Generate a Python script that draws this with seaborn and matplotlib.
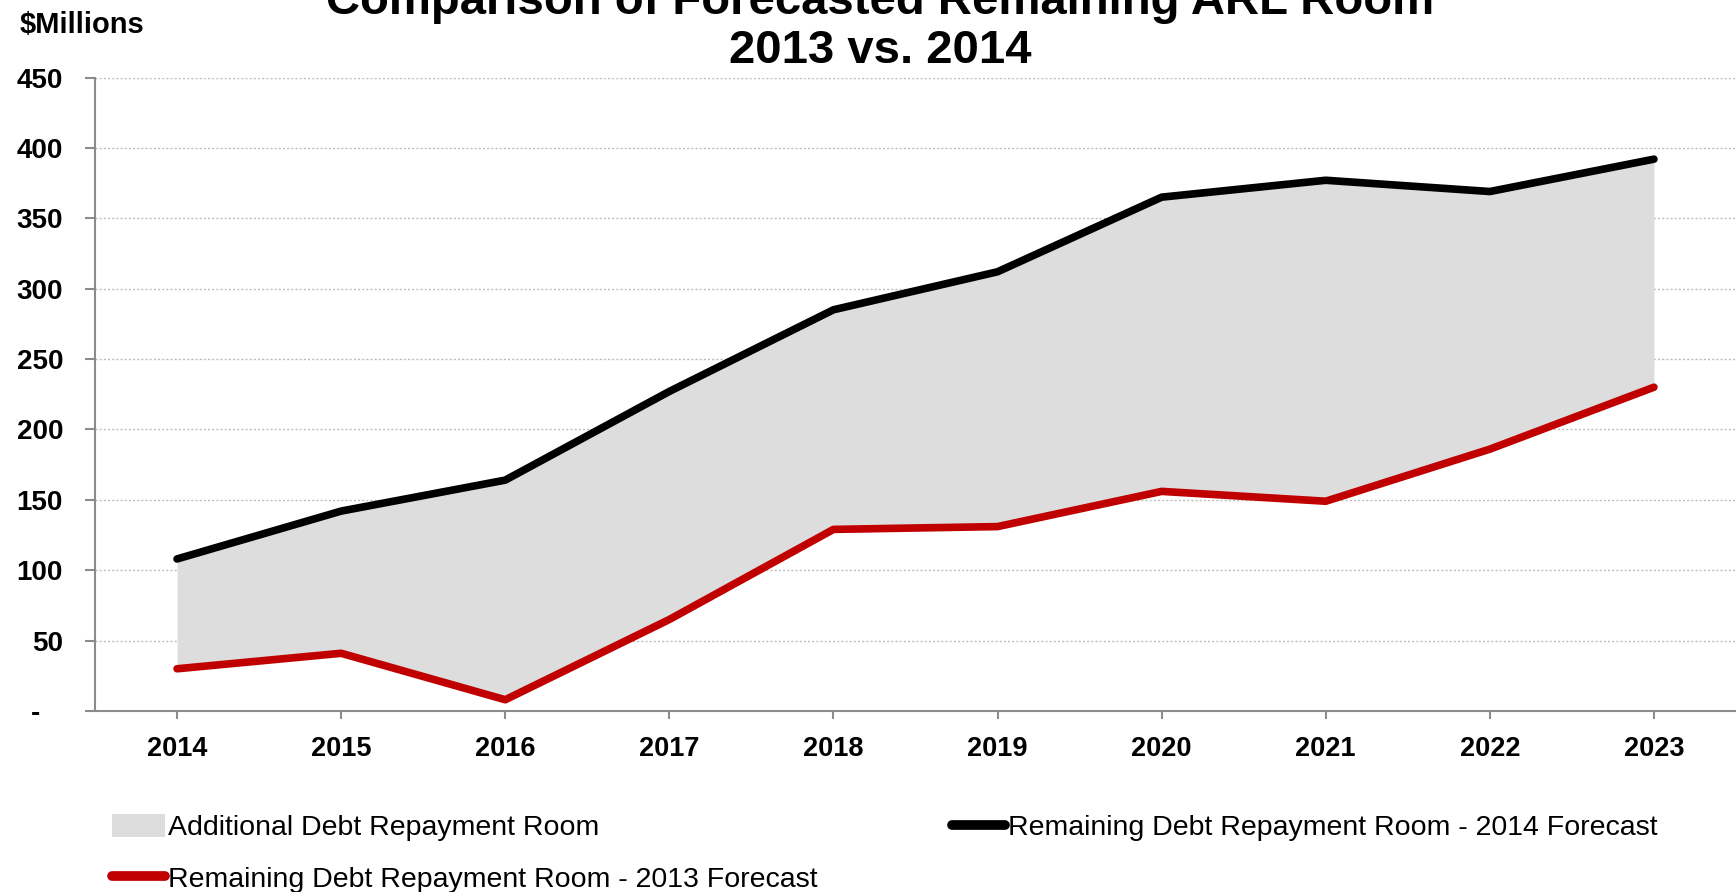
import numpy as np
import pandas as pd
import matplotlib
matplotlib.use("Agg")
import matplotlib.pyplot as plt
import seaborn as sns
from matplotlib.patches import Patch
from matplotlib.lines import Line2D
from matplotlib.ticker import FuncFormatter

# Data ($ millions)
years = [2014, 2015, 2016, 2017, 2018, 2019, 2020, 2021, 2022, 2023]
room_2014 = [108, 142, 164, 227, 285, 312, 365, 377, 369, 392]
room_2013 = [30, 41, 8, 65, 129, 131, 156, 149, 186, 230]
y_ticks = [0, 50, 100, 150, 200, 250, 300, 350, 400, 450]

title_line1 = "Comparison of Forecasted Remaining ARL Room"
title_line2 = "2013 vs. 2014"
unit_label = "$Millions"
label_fill = "Additional Debt Repayment Room"
label_2014 = "Remaining Debt Repayment Room - 2014 Forecast"
label_2013 = "Remaining Debt Repayment Room - 2013 Forecast"

df = pd.DataFrame({"year": years, "f2014": room_2014, "f2013": room_2013})

sns.set_theme(style="white")
plt.rcParams["font.family"] = ["Liberation Sans", "DejaVu Sans"]
plt.rcParams["text.color"] = "black"
plt.rcParams["xtick.color"] = "black"
plt.rcParams["ytick.color"] = "black"

BLACK = "#000000"
RED = "#C00000"
FILL = "#DDDDDD"
SPINE = "#8C8C8C"

fig = plt.figure(figsize=(17.36, 8.92), dpi=100)
ax = fig.add_axes([95 / 1736, 1 - 711 / 892, 1 - 95 / 1736, (711 - 77.5) / 892])

ax.fill_between(df["year"], df["f2013"], df["f2014"], color=FILL, lw=0, zorder=1)
sns.lineplot(data=df, x="year", y="f2014", ax=ax, color=BLACK, lw=5.5,
             solid_capstyle="round", zorder=3)
sns.lineplot(data=df, x="year", y="f2013", ax=ax, color=RED, lw=5.5,
             solid_capstyle="round", zorder=3)

ax.set_xlim(years[0] - 0.5, years[-1] + 0.5)
ax.set_ylim(0, 450)
ax.set_xticks(years)
ax.set_xticklabels([str(y) for y in years])
ax.set_yticks(y_ticks)
ax.yaxis.set_major_formatter(FuncFormatter(lambda v, p: "-   " if v == 0 else f"{int(v)}"))
ax.set_xlabel("")
ax.set_ylabel("")

ax.yaxis.grid(True, color="#BDBDBD", linestyle=(0, (1.5, 1.5)), lw=1)
ax.xaxis.grid(False)
ax.set_axisbelow(True)

for s in ["top", "right"]:
    ax.spines[s].set_visible(False)
for s in ["left", "bottom"]:
    ax.spines[s].set_color(SPINE)
    ax.spines[s].set_linewidth(1.5)

ax.tick_params(axis="y", direction="out", length=7, width=1.5, color=SPINE,
               pad=16, labelsize=20, left=True, labelcolor="black")
ax.tick_params(axis="x", direction="out", length=6, width=1.5, color=SPINE,
               pad=12, labelsize=19.5, bottom=True, labelcolor="black")
for lab in ax.get_xticklabels() + ax.get_yticklabels():
    lab.set_fontweight("bold")

# Titles and unit label
fig.text(880 / 1736, 1 - 14 / 892, title_line1, ha="center", va="baseline",
         fontsize=34, fontweight="bold", color="black")
fig.text(880 / 1736, 1 - 63 / 892, title_line2, ha="center", va="baseline",
         fontsize=34, fontweight="bold", color="black")
fig.text(20 / 1736, 1 - 32.7 / 892, unit_label, ha="left", va="baseline",
         fontsize=21, fontweight="bold", color="black")

# Legends
h_fill = Patch(facecolor=FILL, edgecolor="none")
h_2014 = Line2D([], [], color=BLACK, lw=7, solid_capstyle="round")
h_2013 = Line2D([], [], color=RED, lw=7, solid_capstyle="round")

leg_kw = dict(frameon=False, fontsize=20.5, handlelength=1.85, handleheight=0.85,
              handletextpad=0.1, labelspacing=0.85, borderpad=0, borderaxespad=0,
              labelcolor="black")
leg1 = fig.legend([h_fill, h_2013], [label_fill, label_2013], loc="upper left",
                  bbox_to_anchor=(112 / 1736, 1 - 814 / 892), **leg_kw)
leg2 = fig.legend([h_2014], [label_2014], loc="upper left",
                  bbox_to_anchor=(952 / 1736, 1 - 814 / 892), **leg_kw)

fig.savefig("out.png", dpi=100)
